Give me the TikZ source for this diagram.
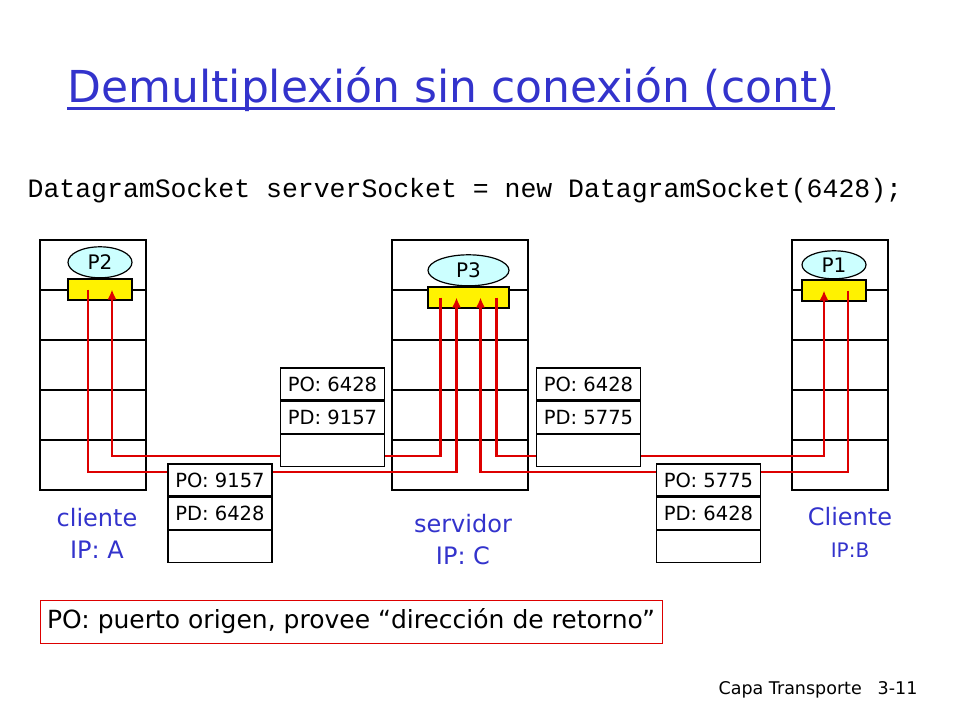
\documentclass[tikz,border=0pt]{standalone}
\usepackage{fontspec}
\setmainfont{DejaVu Sans}
\setmonofont{Liberation Mono}
\usetikzlibrary{positioning, shapes.geometric, arrows.meta}

\definecolor{slideblue}{RGB}{51,51,204}
\definecolor{proccyan}{RGB}{204,255,255}
\definecolor{flowred}{RGB}{221,0,0}

\begin{document}
\begin{tikzpicture}[x=1pt, y=-1pt, line width=1.2pt,
  proc/.style={draw, ellipse, fill=proccyan, minimum width=64pt, minimum height=31pt, inner sep=0pt, font=\fontsize{20}{20}\selectfont},
  sock/.style={draw, fill=yellow, minimum width=64pt, minimum height=21pt, inner sep=0pt},
  seg/.style={draw, fill=white, minimum width=104pt, minimum height=32pt, inner sep=0pt, font=\fontsize{19.5}{19.5}\selectfont},
  flow/.style={draw=flowred, line width=2.8pt},
  flowin/.style={flow, -{Latex[length=10pt, width=9pt]}},
  hostname/.style={text=slideblue, align=center, inner sep=0pt, font=\fontsize{24}{32}\selectfont}]

\useasboundingbox (0,0) rectangle (960,720);

% title
\node[anchor=base west, inner sep=0pt, text=slideblue, font=\fontsize{44}{44}\selectfont] (title) at (67,102) {Demultiplexión sin conexión (cont)};
\draw[slideblue, line width=3pt] ([yshift=-6pt]title.base west) -- ([yshift=-6pt]title.base east);

\node[anchor=base west, inner sep=0pt, font=\ttfamily\fontsize{26.5}{26.5}\selectfont] (code) at (27,197) {DatagramSocket serverSocket = new DatagramSocket(6428);};

% hosts
\foreach \xa/\xb in {40/146, 392/528, 792/888} {
  \draw (\xa,240) rectangle (\xb,490);
  \foreach \y in {290,340,390,440}
    \draw (\xa,\y) -- (\xb,\y);
}

% sockets and processes
\node[sock] (sockA) at (100,289.5) {};
\node[proc, above=0pt of sockA] (procA) {P2};
\node[sock, minimum width=81pt] (sockC) at (468.5,297.5) {};
\node[proc, minimum width=81pt, above=0pt of sockC] (procC) {P3};
\node[sock] (sockB) at (834,290.5) {};
\node[proc, minimum height=28pt, above=0pt of sockB] (procB) {P1};

\coordinate (a-out) at ([xshift=-12pt]sockA.center);
\coordinate (a-in) at ([xshift=12pt]sockA.center);
\coordinate (c-out1) at ([xshift=-28pt]sockC.center);
\coordinate (c-in1) at ([xshift=-12pt]sockC.center);
\coordinate (c-in2) at ([xshift=12pt]sockC.center);
\coordinate (c-out2) at ([xshift=28pt]sockC.center);
\coordinate (b-in) at ([xshift=-10pt]sockB.center);
\coordinate (b-out) at ([xshift=14pt]sockB.center);
\coordinate (upper) at (0,456);
\coordinate (lower) at (0,472);

% flows
\draw[flowin] (a-out) -- (a-out |- lower) -| (c-in1);
\draw[flowin] (c-out1) -- (c-out1 |- upper) -| (a-in);
\draw[flowin] (c-out2) -- (c-out2 |- upper) -| (b-in);
\draw[flowin] (b-out) -- (b-out |- lower) -| (c-in2);

% segments
\node[seg] (segAC1) at (220,480) {PO: 9157};
\node[seg, below=0pt of segAC1] (segAC2) {PD: 6428};
\node[seg, below=0pt of segAC2] (segAC3) {};
\node[seg] (segCA1) at (332.5,384) {PO: 6428};
\node[seg, below=0pt of segCA1] (segCA2) {PD: 9157};
\node[seg, below=0pt of segCA2] (segCA3) {};
\node[seg] (segCB1) at (588.5,384) {PO: 6428};
\node[seg, below=0pt of segCB1] (segCB2) {PD: 5775};
\node[seg, below=0pt of segCB2] (segCB3) {};
\node[seg] (segBC1) at (708.5,480) {PO: 5775};
\node[seg, below=0pt of segBC1] (segBC2) {PD: 6428};
\node[seg, below=0pt of segBC2] (segBC3) {};

\node[hostname] (nameA) at (97,533) {cliente\\IP: A};
\node[hostname] (nameC) at (463,540) {servidor\\IP: C};
\node[hostname] (nameB) at (850,532) {Cliente\\{\fontsize{20}{20}\selectfont IP:B}};

\node[draw=flowred, line width=0.8pt, minimum width=622pt, minimum height=43pt, inner sep=0pt, font=\fontsize{25}{25}\selectfont] (note) at (351,621.5) {PO: puerto origen, provee “dirección de retorno”};

\node[anchor=base west, inner sep=0pt, font=\fontsize{17.5}{17.5}\selectfont] (chapter) at (718,694) {Capa Transporte};
\node[anchor=base east, inner sep=0pt, font=\fontsize{17.5}{17.5}\selectfont] (slideno) at (918,694) {3-11};

\end{tikzpicture}
\end{document}
